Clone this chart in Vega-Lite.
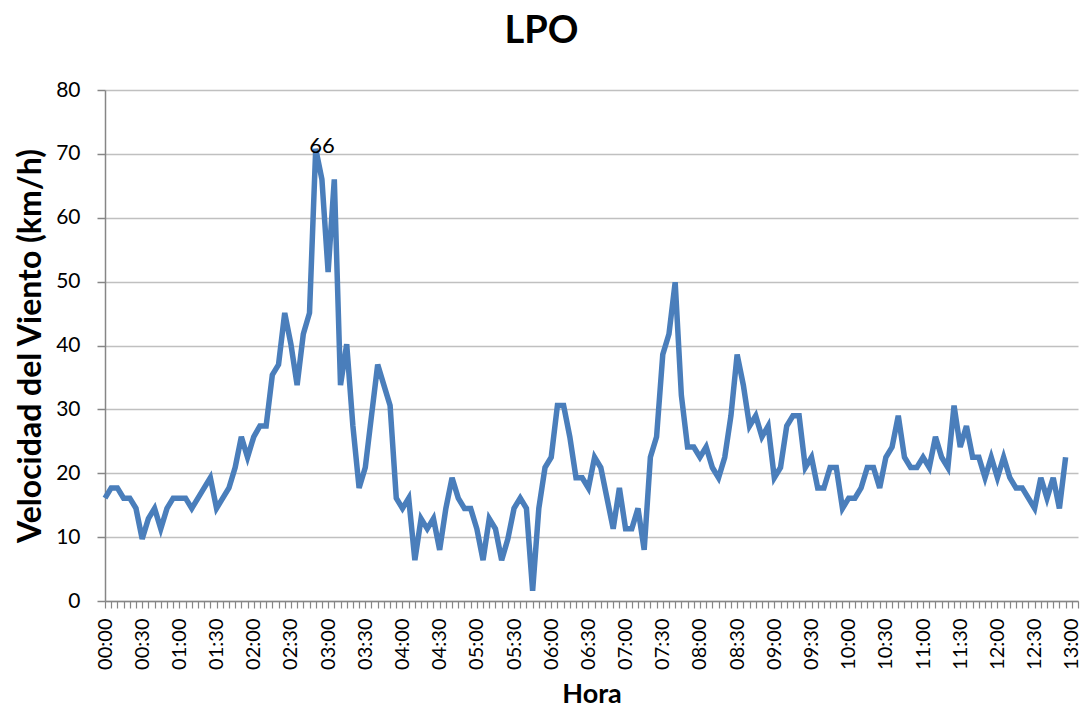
{
  "$schema": "https://vega.github.io/schema/vega-lite/v6.json",
  "autosize": {"type": "none"},
  "width": 973,
  "height": 511,
  "padding": {"left": 105, "top": 90, "right": 7, "bottom": 118},
  "background": "white",
  "config": {
    "font": "Lato",
    "view": {"stroke": null}
  },
  "title": {
    "text": "LPO",
    "font": "Lato",
    "fontSize": 38,
    "fontWeight": "bold",
    "color": "#000000",
    "anchor": "middle",
    "frame": "group",
    "dx": -50,
    "offset": 28
  },
  "data": {
    "values": [
      {"minuto": 0, "velocidad": 16.1}, {"minuto": 5, "velocidad": 17.7}, {"minuto": 10, "velocidad": 17.7}, {"minuto": 15, "velocidad": 16.1},
      {"minuto": 20, "velocidad": 16.1}, {"minuto": 25, "velocidad": 14.5}, {"minuto": 30, "velocidad": 9.7}, {"minuto": 35, "velocidad": 12.9},
      {"minuto": 40, "velocidad": 14.5}, {"minuto": 45, "velocidad": 11.3}, {"minuto": 50, "velocidad": 14.5}, {"minuto": 55, "velocidad": 16.1},
      {"minuto": 60, "velocidad": 16.1}, {"minuto": 65, "velocidad": 16.1}, {"minuto": 70, "velocidad": 14.5}, {"minuto": 75, "velocidad": 16.1},
      {"minuto": 80, "velocidad": 17.7}, {"minuto": 85, "velocidad": 19.3}, {"minuto": 90, "velocidad": 14.5}, {"minuto": 95, "velocidad": 16.1},
      {"minuto": 100, "velocidad": 17.7}, {"minuto": 105, "velocidad": 20.9}, {"minuto": 110, "velocidad": 25.7}, {"minuto": 115, "velocidad": 22.5},
      {"minuto": 120, "velocidad": 25.7}, {"minuto": 125, "velocidad": 27.4}, {"minuto": 130, "velocidad": 27.4}, {"minuto": 135, "velocidad": 35.4},
      {"minuto": 140, "velocidad": 37.0}, {"minuto": 145, "velocidad": 45.1}, {"minuto": 150, "velocidad": 40.2}, {"minuto": 155, "velocidad": 33.8},
      {"minuto": 160, "velocidad": 41.8}, {"minuto": 165, "velocidad": 45.1}, {"minuto": 170, "velocidad": 70.8}, {"minuto": 175, "velocidad": 66.0, "etiqueta": "66"},
      {"minuto": 180, "velocidad": 51.5}, {"minuto": 185, "velocidad": 66.0}, {"minuto": 190, "velocidad": 33.8}, {"minuto": 195, "velocidad": 40.2},
      {"minuto": 200, "velocidad": 27.4}, {"minuto": 205, "velocidad": 17.7}, {"minuto": 210, "velocidad": 20.9}, {"minuto": 215, "velocidad": 29.0},
      {"minuto": 220, "velocidad": 37.0}, {"minuto": 225, "velocidad": 33.8}, {"minuto": 230, "velocidad": 30.6}, {"minuto": 235, "velocidad": 16.1},
      {"minuto": 240, "velocidad": 14.5}, {"minuto": 245, "velocidad": 16.1}, {"minuto": 250, "velocidad": 6.4}, {"minuto": 255, "velocidad": 12.9},
      {"minuto": 260, "velocidad": 11.3}, {"minuto": 265, "velocidad": 12.9}, {"minuto": 270, "velocidad": 8.0}, {"minuto": 275, "velocidad": 14.5},
      {"minuto": 280, "velocidad": 19.3}, {"minuto": 285, "velocidad": 16.1}, {"minuto": 290, "velocidad": 14.5}, {"minuto": 295, "velocidad": 14.5},
      {"minuto": 300, "velocidad": 11.3}, {"minuto": 305, "velocidad": 6.4}, {"minuto": 310, "velocidad": 12.9}, {"minuto": 315, "velocidad": 11.3},
      {"minuto": 320, "velocidad": 6.4}, {"minuto": 325, "velocidad": 9.7}, {"minuto": 330, "velocidad": 14.5}, {"minuto": 335, "velocidad": 16.1},
      {"minuto": 340, "velocidad": 14.5}, {"minuto": 345, "velocidad": 1.6}, {"minuto": 350, "velocidad": 14.5}, {"minuto": 355, "velocidad": 20.9},
      {"minuto": 360, "velocidad": 22.5}, {"minuto": 365, "velocidad": 30.6}, {"minuto": 370, "velocidad": 30.6}, {"minuto": 375, "velocidad": 25.7},
      {"minuto": 380, "velocidad": 19.3}, {"minuto": 385, "velocidad": 19.3}, {"minuto": 390, "velocidad": 17.7}, {"minuto": 395, "velocidad": 22.5},
      {"minuto": 400, "velocidad": 20.9}, {"minuto": 405, "velocidad": 16.1}, {"minuto": 410, "velocidad": 11.3}, {"minuto": 415, "velocidad": 17.7},
      {"minuto": 420, "velocidad": 11.3}, {"minuto": 425, "velocidad": 11.3}, {"minuto": 430, "velocidad": 14.5}, {"minuto": 435, "velocidad": 8.0},
      {"minuto": 440, "velocidad": 22.5}, {"minuto": 445, "velocidad": 25.7}, {"minuto": 450, "velocidad": 38.6}, {"minuto": 455, "velocidad": 41.8},
      {"minuto": 460, "velocidad": 49.9}, {"minuto": 465, "velocidad": 32.2}, {"minuto": 470, "velocidad": 24.1}, {"minuto": 475, "velocidad": 24.1},
      {"minuto": 480, "velocidad": 22.5}, {"minuto": 485, "velocidad": 24.1}, {"minuto": 490, "velocidad": 20.9}, {"minuto": 495, "velocidad": 19.3},
      {"minuto": 500, "velocidad": 22.5}, {"minuto": 505, "velocidad": 29.0}, {"minuto": 510, "velocidad": 38.6}, {"minuto": 515, "velocidad": 33.8},
      {"minuto": 520, "velocidad": 27.4}, {"minuto": 525, "velocidad": 29.0}, {"minuto": 530, "velocidad": 25.7}, {"minuto": 535, "velocidad": 27.4},
      {"minuto": 540, "velocidad": 19.3}, {"minuto": 545, "velocidad": 20.9}, {"minuto": 550, "velocidad": 27.4}, {"minuto": 555, "velocidad": 29.0},
      {"minuto": 560, "velocidad": 29.0}, {"minuto": 565, "velocidad": 20.9}, {"minuto": 570, "velocidad": 22.5}, {"minuto": 575, "velocidad": 17.7},
      {"minuto": 580, "velocidad": 17.7}, {"minuto": 585, "velocidad": 20.9}, {"minuto": 590, "velocidad": 20.9}, {"minuto": 595, "velocidad": 14.5},
      {"minuto": 600, "velocidad": 16.1}, {"minuto": 605, "velocidad": 16.1}, {"minuto": 610, "velocidad": 17.7}, {"minuto": 615, "velocidad": 20.9},
      {"minuto": 620, "velocidad": 20.9}, {"minuto": 625, "velocidad": 17.7}, {"minuto": 630, "velocidad": 22.5}, {"minuto": 635, "velocidad": 24.1},
      {"minuto": 640, "velocidad": 29.0}, {"minuto": 645, "velocidad": 22.5}, {"minuto": 650, "velocidad": 20.9}, {"minuto": 655, "velocidad": 20.9},
      {"minuto": 660, "velocidad": 22.5}, {"minuto": 665, "velocidad": 20.9}, {"minuto": 670, "velocidad": 25.7}, {"minuto": 675, "velocidad": 22.5},
      {"minuto": 680, "velocidad": 20.9}, {"minuto": 685, "velocidad": 30.6}, {"minuto": 690, "velocidad": 24.1}, {"minuto": 695, "velocidad": 27.4},
      {"minuto": 700, "velocidad": 22.5}, {"minuto": 705, "velocidad": 22.5}, {"minuto": 710, "velocidad": 19.3}, {"minuto": 715, "velocidad": 22.5},
      {"minuto": 720, "velocidad": 19.3}, {"minuto": 725, "velocidad": 22.5}, {"minuto": 730, "velocidad": 19.3}, {"minuto": 735, "velocidad": 17.7},
      {"minuto": 740, "velocidad": 17.7}, {"minuto": 745, "velocidad": 16.1}, {"minuto": 750, "velocidad": 14.5}, {"minuto": 755, "velocidad": 19.3},
      {"minuto": 760, "velocidad": 16.1}, {"minuto": 765, "velocidad": 19.3}, {"minuto": 770, "velocidad": 14.5}, {"minuto": 775, "velocidad": 22.5}
    ]
  },
  "encoding": {
    "x": {
      "field": "minuto",
      "type": "quantitative",
      "scale": {"domain": [0, 785], "nice": false, "zero": false},
      "axis": {
        "title": "Hora",
        "titleFont": "Lato",
        "titleFontSize": 27,
        "titleFontWeight": "bold",
        "titleColor": "#000000",
        "titlePadding": 12,
        "values": [0,5,10,15,20,25,30,35,40,45,50,55,60,65,70,75,80,85,90,95,100,105,110,115,120,125,130,135,140,145,150,155,160,165,170,175,180,185,190,195,200,205,210,215,220,225,230,235,240,245,250,255,260,265,270,275,280,285,290,295,300,305,310,315,320,325,330,335,340,345,350,355,360,365,370,375,380,385,390,395,400,405,410,415,420,425,430,435,440,445,450,455,460,465,470,475,480,485,490,495,500,505,510,515,520,525,530,535,540,545,550,555,560,565,570,575,580,585,590,595,600,605,610,615,620,625,630,635,640,645,650,655,660,665,670,675,680,685,690,695,700,705,710,715,720,725,730,735,740,745,750,755,760,765,770,775,780,785],
        "labelExpr": "datum.value % 30 == 0 ? utcFormat(datum.value * 60000, '%H:%M') : ''",
        "labelAngle": -90,
        "labelAlign": "right",
        "labelBaseline": "middle",
        "labelFont": "Lato",
        "labelFontSize": 20,
        "labelColor": "#000000",
        "labelPadding": 10,
        "labelOverlap": false,
        "labelFlush": false,
        "labelBound": false,
        "grid": false,
        "domainColor": "#868686",
        "domainWidth": 1.5,
        "tickColor": "#868686",
        "tickWidth": 1.2,
        "tickSize": 7
      }
    },
    "y": {
      "field": "velocidad",
      "type": "quantitative",
      "scale": {"domain": [0, 80], "nice": false},
      "axis": {
        "title": "Velocidad del Viento (km/h)",
        "titleFont": "Lato",
        "titleFontSize": 32,
        "titleFontWeight": "bold",
        "titleColor": "#000000",
        "titlePadding": 8,
        "values": [0, 10, 20, 30, 40, 50, 60, 70, 80],
        "labelFont": "Lato",
        "labelFontSize": 21,
        "labelColor": "#000000",
        "labelPadding": 17,
        "labelFlush": false,
        "grid": true,
        "gridColor": "#C0C0C0",
        "gridWidth": 1.5,
        "domainColor": "#868686",
        "domainWidth": 1.5,
        "tickColor": "#868686",
        "tickWidth": 1.5,
        "tickSize": 8
      }
    }
  },
  "layer": [
    {
      "mark": {"type": "line", "color": "#4A7EBB", "strokeWidth": 5.5, "strokeJoin": "miter", "strokeMiterLimit": 4}
    },
    {
      "transform": [{"filter": "isValid(datum.etiqueta)"}],
      "mark": {"type": "text", "font": "Lato", "fontSize": 22, "color": "#000000", "dy": -33, "align": "center", "baseline": "middle"},
      "encoding": {"text": {"field": "etiqueta"}}
    }
  ]
}
